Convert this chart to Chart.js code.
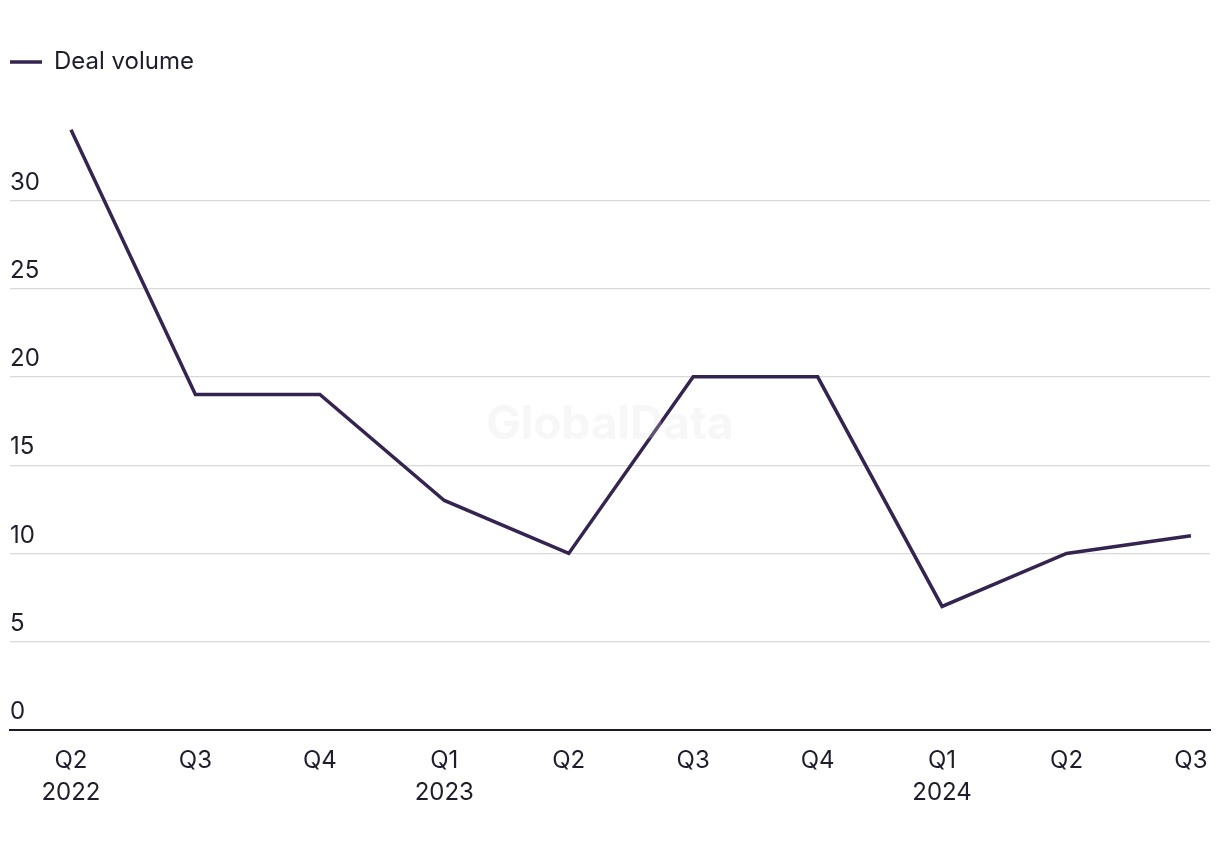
<!DOCTYPE html>
<html>
<head>
<meta charset="utf-8">
<script src="https://cdn.jsdelivr.net/npm/chart.js@4/dist/chart.umd.min.js"></script>
<style>
  html, body { margin: 0; padding: 0; background: #fff; }
  #wrap { width: 1220px; height: 850px; }
</style>
</head>
<body>
<div id="wrap"><canvas id="myChart" width="1220" height="850"></canvas></div>
<script>
const quarters = ['Q2', 'Q3', 'Q4', 'Q1', 'Q2', 'Q3', 'Q4', 'Q1', 'Q2', 'Q3'];
const years = ['2022', '', '', '2023', '', '', '', '2024', '', ''];
const dealVolume = [34, 19, 19, 13, 10, 20, 20, 7, 10, 11];
const yTicks = [0, 5, 10, 15, 20, 25, 30];

const textColor = '#1d1d2b';
const lineColor = '#35244f';

Chart.defaults.font.family = 'Inter, "Liberation Sans", sans-serif';
Chart.defaults.font.size = 24;
Chart.defaults.color = textColor;

// fixed legend height so the plot area starts where the reference does
const legendHeight = {
    id: 'legendHeight',
    beforeInit(chart) {
        const fit = chart.legend.fit;
        chart.legend.fit = function () {
            fit.call(this);
            this.height = 62;
        };
    }
};

const watermark = {
    id: 'watermark',
    afterDatasetsDraw(chart) {
        const { ctx, chartArea } = chart;
        ctx.save();
        ctx.font = 'bold 46px Inter, sans-serif';
        ctx.fillStyle = 'rgba(225, 225, 225, 0.25)';
        ctx.textAlign = 'center';
        ctx.textBaseline = 'middle';
        ctx.fillText('GlobalData', (chartArea.left + chartArea.right) / 2, 425);
        ctx.restore();
    }
};

const ctx = document.getElementById('myChart').getContext('2d');
new Chart(ctx, {
    type: 'line',
    data: {
        datasets: [{
            label: 'Deal volume',
            data: dealVolume.map((v, i) => ({ x: i, y: v })),
            borderColor: lineColor,
            backgroundColor: lineColor,
            borderWidth: 3.5,
            pointRadius: 0,
            pointHoverRadius: 0,
            tension: 0
        }]
    },
    options: {
        responsive: false,
        animation: false,
        layout: { padding: { top: 50, left: 10, right: 10, bottom: 34 } },
        plugins: {
            legend: {
                position: 'top',
                align: 'start',
                labels: {
                    usePointStyle: true,
                    pointStyle: 'line',
                    pointStyleWidth: 32,
                    boxHeight: 24,
                    padding: 0,
                    color: textColor,
                    font: { size: 24 }
                }
            },
            tooltip: { enabled: false }
        },
        scales: {
            x: {
                type: 'linear',
                min: -0.49,
                max: 9.153,
                afterBuildTicks: axis => {
                    axis.ticks = quarters.map((_, i) => ({ value: i }));
                },
                grid: { display: false },
                border: { display: true, color: '#1a1a2e', width: 2 },
                ticks: {
                    padding: 7,
                    maxRotation: 0,
                    autoSkip: false,
                    font: { size: 24, lineHeight: 1.333 },
                    callback: value => years[value] ? [quarters[value], years[value]] : quarters[value]
                }
            },
            y: {
                min: 0,
                max: 35,
                afterBuildTicks: axis => {
                    axis.ticks = yTicks.map(v => ({ value: v }));
                },
                border: { display: false },
                grid: {
                    drawTicks: false,
                    color: c => c.tick && c.tick.value === 0 ? 'rgba(0,0,0,0)' : '#d9d9d9',
                    lineWidth: 1.3
                },
                ticks: {
                    mirror: true,
                    padding: 0,
                    labelOffset: -18,
                    font: { size: 24 }
                }
            }
        }
    },
    plugins: [legendHeight, watermark]
});
</script>
</body>
</html>
